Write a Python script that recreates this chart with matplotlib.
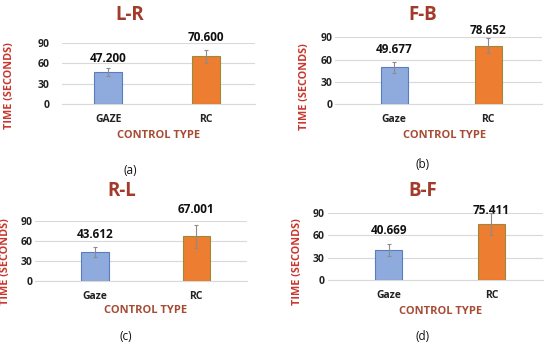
import numpy as np
import matplotlib
matplotlib.use("Agg")
from matplotlib import pyplot as plt

# data
titles = ["L-R", "F-B", "R-L", "B-F"]
panel_tags = ["(a)", "(b)", "(c)", "(d)"]
categories = [["GAZE", "RC"], ["Gaze", "RC"], ["Gaze", "RC"], ["Gaze", "RC"]]
gaze_means = [47.200, 49.677, 43.612, 40.669]
rc_means = [70.600, 78.652, 67.001, 75.411]
gaze_err = [6, 7, 8, 8]
rc_err = [10, 10, 17, 15]
yticks = [0, 30, 60, 90]

plt.rcParams['font.family'] = ['Open Sans', 'DejaVu Sans']

fig = plt.figure(figsize=(5.5, 3.48), dpi=100)

# layout
boxes = [[0.113, 0.701, 0.351, 0.175],
         [0.609, 0.700, 0.376, 0.193],
         [0.064, 0.193, 0.385, 0.172],
         [0.596, 0.195, 0.391, 0.193]]
xlims = [(-0.47, 1.5), (-0.63, 1.57), (-0.59, 1.5), (-0.59, 1.5)]
bar_w = [0.28, 0.29, 0.27, 0.26]
ypads = [9, 2, 2, 2.5]
label_y = [[68, 99], [74, 98.5], [69, 108], [66, 93]]  # value label centres (data units)
ylab_xy = [(-0.244, 0.31), (-0.12, 0.26), (-0.112, 0.32), (-0.116, 0.28)]
xlab_xy = [(0.497, -0.52), (0.53, -0.47), (0.52, -0.5), (0.525, -0.46)]

title_c = "#A33A2B"
ylab_c = "#C8372D"
xlab_c = "#A84B34"

for i in range(4):
    ax = fig.add_axes(boxes[i])
    x = np.arange(2)
    vals = [gaze_means[i], rc_means[i]]
    errs = [gaze_err[i], rc_err[i]]
    ax.bar(x, vals, width=bar_w[i], color=["#8FAADC", "#ED7D31"],
           edgecolor=["#5A7CC0", "#9C8A3C"], linewidth=0.8, zorder=3)
    ax.errorbar(x, vals, yerr=errs, fmt="none", ecolor="#8C8C8C",
                elinewidth=0.8, capsize=1.5, capthick=0.8, zorder=4, clip_on=False)
    ax.set_ylim(0, 90)
    ax.set_xlim(*xlims[i])
    ax.set_yticks(yticks)
    ax.set_xticks(x)
    ax.set_xticklabels(categories[i])
    ax.grid(axis="y", color="#D9D9D9", linewidth=0.8, zorder=0)
    for s in ["top", "right", "left"]:
        ax.spines[s].set_visible(False)
    ax.spines["bottom"].set_color("#D9D9D9")
    ax.tick_params(length=0, labelsize=7.5, colors="#222222")
    ax.tick_params(axis="y", pad=ypads[i])
    ax.tick_params(axis="x", pad=7)
    for lab in ax.get_xticklabels() + ax.get_yticklabels():
        lab.set_fontweight("bold")
    # value labels
    for xi, v, ly in zip(x, vals, label_y[i]):
        ax.text(xi, ly, "%.3f" % v, ha="center", va="center",
                fontsize=8.5, fontweight="bold", color="#111111", clip_on=False)
    ax.set_ylabel("TIME (SECONDS)", color=ylab_c, fontsize=7.8, fontweight="bold")
    ax.yaxis.set_label_coords(*ylab_xy[i])
    ax.set_xlabel("CONTROL TYPE", color=xlab_c, fontsize=8, fontweight="bold", va="center")
    ax.xaxis.set_label_coords(*xlab_xy[i])

# titles and panel tags in figure pixels
title_pos = [(130, 15), (423, 15), (122, 191), (423, 191)]
tag_pos = [(130, 170), (423, 165), (126, 337), (423, 337)]
for i in range(4):
    tx, ty = title_pos[i]
    fig.text(tx / 550, 1 - ty / 348, titles[i], ha="center", va="center",
             fontsize=13.5, fontweight="bold", color=title_c)
    px, py = tag_pos[i]
    fig.text(px / 550, 1 - py / 348, panel_tags[i], ha="center", va="center",
             fontsize=8.5, color="#111111")

fig.savefig("out.png", dpi=100)
